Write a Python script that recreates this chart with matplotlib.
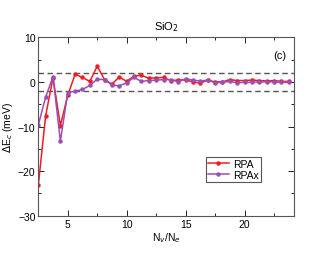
import matplotlib
matplotlib.use('Agg')
from matplotlib import pyplot as plt
from matplotlib.ticker import MultipleLocator

plt.rcParams['font.family'] = ['Liberation Sans', 'DejaVu Sans']

nv_ne = [2.5 + 0.625 * i for i in range(35)]
rpa = [-23.2, -7.6, 0.9, -9.8, -3.0, 1.7, 1.0, 0.1, 3.5, 0.5,
       -0.5, 1.1, 0.1, 1.3, 1.5, 0.8, 0.9, 1.0, 0.3, 0.4,
       0.5, 0.0, -0.3, 0.4, 0.0, 0.0, 0.5, 0.3, 0.3, 0.4,
       0.3, 0.2, 0.3, 0.1, 0.1]
rpax = [-9.7, -3.4, 1.2, -13.3, -2.4, -2.1, -1.7, -0.8, 0.6, 0.5,
        -0.7, -0.9, -0.2, 1.0, 0.1, 0.3, 0.4, 0.5, 0.5, 0.0,
        0.7, 0.4, 0.2, 0.4, -0.2, -0.1, 0.1, -0.2, -0.1, -0.1,
        0.0, 0.0, 0.0, -0.1, -0.1]

fig = plt.figure(figsize=(3.3, 2.55), dpi=100)
ax = fig.add_axes([0.116, 0.15, 0.775, 0.70])

ax.axhline(2, color='#555555', lw=1.0, ls=(0, (4, 2.5)))
ax.axhline(-2, color='#555555', lw=1.0, ls=(0, (4, 2.5)))
ax.plot(nv_ne, rpa, '-o', color='#ee1c25', lw=1.1, ms=2.2, label='RPA')
ax.plot(nv_ne, rpax, '-o', color='#9b4fb5', lw=1.1, ms=2.2, label='RPAx')

ax.set_xlim(2.5, 24.2)
ax.set_ylim(-30, 10)
ax.xaxis.set_major_locator(MultipleLocator(5))
ax.xaxis.set_minor_locator(MultipleLocator(2.5))
ax.yaxis.set_major_locator(MultipleLocator(10))
ax.yaxis.set_minor_locator(MultipleLocator(5))
ax.tick_params(which='both', direction='in', top=True, right=True, labelsize=7.5, pad=2)
ax.tick_params(which='major', length=4, width=0.6)
ax.tick_params(which='minor', length=2, width=0.6)
for s in ax.spines.values():
    s.set_linewidth(0.8)
    s.set_color('#555555')

ax.set_xlabel('N$_v$/N$_e$', fontsize=7.5, labelpad=1)
ax.set_ylabel(r'$\Delta$E$_c$ (meV)', fontsize=7.5, labelpad=2)
ax.set_title('SiO$_2$', fontsize=8, pad=6)
ax.text(0.97, 0.93, '(c)', transform=ax.transAxes, ha='right', va='top', fontsize=8)

leg = ax.legend(loc='lower right', bbox_to_anchor=(0.89, 0.16), fontsize=7.5,
                fancybox=False, framealpha=1, edgecolor='#555555',
                handlelength=2.0, borderpad=0.2, labelspacing=0.1, handletextpad=0.4)
leg.get_frame().set_linewidth(0.8)

plt.savefig('out.png', dpi=100)
